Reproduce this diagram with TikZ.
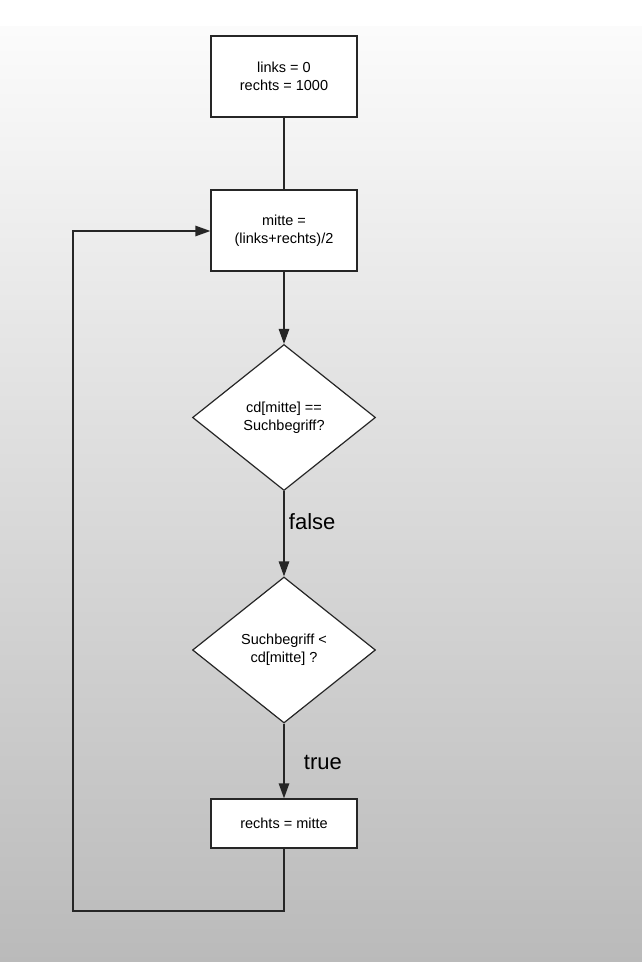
\documentclass[tikz,border=0pt]{standalone}
\usepackage{fontspec}
\setmainfont{Liberation Sans}
\usetikzlibrary{arrows.meta,shapes.geometric}
\begin{document}
\begin{tikzpicture}[x=1pt,y=-1pt,
  every node/.style={font=\fontsize{14.5}{18}\selectfont, align=center},
  procbox/.style={draw=black!85, line width=1.3pt, fill=white, minimum width=146pt, inner sep=0pt},
  decision/.style={diamond, draw=black!85, line width=1.2pt, fill=white, minimum width=183pt, minimum height=146pt, inner sep=0pt, aspect=1.25},
  conn/.style={draw=black!85, line width=1.3pt},
  arr/.style={conn, -{Triangle[length=15pt,width=10.5pt]}},
  lbl/.style={font=\fontsize{22}{26}\selectfont, anchor=west}]
\useasboundingbox (0,0) rectangle (642,962);
\fill[white] (0,0) rectangle (642,26);
\shade[top color=black!1.5, bottom color=black!27] (0,26) rectangle (642,962);
\node[procbox, minimum height=81pt] (init) at (284,76.5) {links = 0\\rechts = 1000};
\node[procbox, minimum height=81pt] (mitte) at (284,230.5) {mitte =\\(links+rechts)/2};
\node[decision] (eq) at (284,417.5) {cd[mitte] ==\\Suchbegriff?};
\node[decision] (lt) at (284,650) {Suchbegriff <\\cd[mitte] ?};
\node[procbox, minimum height=49pt] (rechts) at (284,823.5) {rechts = mitte};
\coordinate (c1) at (284,911);
\coordinate (c2) at (73,911);
\coordinate (c3) at (73,231);
\draw[conn] (init) -- (mitte);
\draw[arr] (mitte) -- (eq);
\draw[arr] (eq) -- node[lbl, pos=0.36, xshift=1pt] (lf) {false} (lt);
\draw[arr] (lt) -- node[lbl, pos=0.52, xshift=16pt] (lt2) {true} (rechts);
\draw[arr] (rechts.south) -- (c1) -- (c2) -- (c3) -- (mitte.west |- c3);
\end{tikzpicture}
\end{document}
